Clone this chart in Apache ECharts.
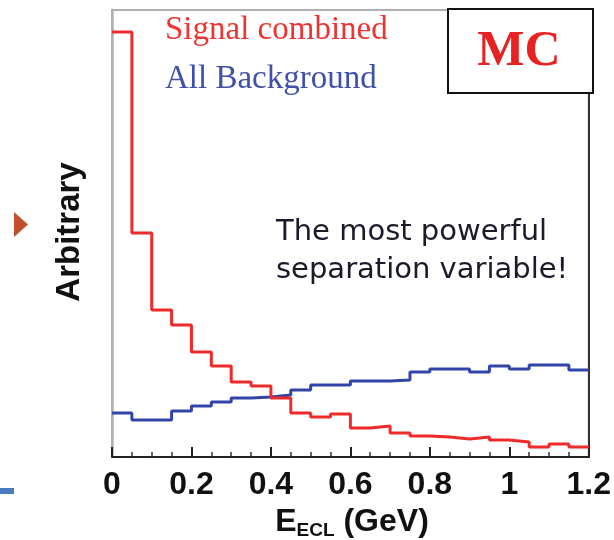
<!DOCTYPE html>
<html>
<head>
<meta charset="utf-8">
<script src="https://cdn.jsdelivr.net/npm/echarts@6/dist/echarts.min.js"></script>
<style>html,body{margin:0;padding:0;background:#fff}#c{width:614px;height:540px}</style>
</head>
<body>
<div id="c"></div>
<script>
// Bin lower edges (GeV), bin width 0.05
var binLeft = [0, 0.05, 0.1, 0.15, 0.2, 0.25, 0.3, 0.35, 0.4, 0.45, 0.5, 0.55,
               0.6, 0.65, 0.7, 0.75, 0.8, 0.85, 0.9, 0.95, 1.0, 1.05, 1.1, 1.15];
var binUpperEnd = 1.2;
// Signal combined (arbitrary units)
var signalValues = [425, 224, 147, 132, 105, 91, 75, 71, 59, 44, 40, 43,
                    29, 31, 24, 21, 20, 18, 20, 17, 15, 10, 13, 10];
// All Background (arbitrary units)
var backgroundValues = [44, 37, 37, 46, 51, 55, 59, 60, 62, 67, 72, 72,
                        76, 76, 77, 85, 88, 88, 85, 91, 88, 92, 92, 87];
var xTickLabels = ['0', '0.2', '0.4', '0.6', '0.8', '1', '1.2'];

function stepData(vals) {
  var d = binLeft.map(function (x, i) { return [x, vals[i]]; });
  d.push([binUpperEnd, vals[vals.length - 1]]);
  return d;
}

var chart = echarts.init(document.getElementById('c'));
chart.setOption({
  animation: false,
  backgroundColor: '#fff',
  grid: { left: 112, right: 22, top: 10, bottom: 83, show: true, borderColor: '#b0b0b0', borderWidth: 2, backgroundColor: 'transparent' },
  xAxis: {
    type: 'value', min: 0, max: 1.2, interval: 0.2,
    axisLine: { onZero: false, lineStyle: { color: '#222', width: 2 } },
    axisTick: { inside: true, length: 10, lineStyle: { color: '#222', width: 2 } },
    minorTick: { show: true, splitNumber: 4, length: 5, lineStyle: { color: '#333', width: 1.5 } },
    splitLine: { show: false },
    axisLabel: {
      margin: 12, color: '#111', fontFamily: 'Liberation Sans', fontWeight: 'bold', fontSize: 32,
      formatter: function (v) { var i = Math.round(v / 0.2); return xTickLabels[i]; }
    }
  },
  yAxis: [{
    type: 'value', min: 0, max: 447,
    axisLine: { show: true, lineStyle: { color: '#b0b0b0', width: 2.5 } },
    axisTick: { show: false }, axisLabel: { show: false }, splitLine: { show: false }
  }, {
    type: 'value', min: 0, max: 447, position: 'right',
    axisLine: { show: true, lineStyle: { color: '#333', width: 2 } },
    axisTick: { show: false }, axisLabel: { show: false }, splitLine: { show: false }
  }],
  series: [{
    name: 'All Background', type: 'line', step: 'end', symbol: 'none',
    lineStyle: { color: '#3344a8', width: 3 }, data: stepData(backgroundValues), z: 3
  }, {
    name: 'Signal combined', type: 'line', step: 'end', symbol: 'none',
    lineStyle: { color: '#ee2a2a', width: 3 }, data: stepData(signalValues), z: 4
  }],
  graphic: [
    { type: 'rect', shape: { x: 448, y: 9, width: 145, height: 84 }, style: { fill: '#fff', stroke: '#111', lineWidth: 2 }, z: 10 },
    { type: 'text', x: 519, y: 52, z: 11, style: { text: 'MC', fill: '#e82222', font: 'bold 50px "Liberation Serif"', textAlign: 'center', textVerticalAlign: 'middle' } },
    { type: 'text', x: 165, y: 30, z: 11, style: { text: 'Signal combined', fill: '#ee3333', font: '33px "Liberation Serif"', textAlign: 'left', textVerticalAlign: 'middle' } },
    { type: 'text', x: 165, y: 79, z: 11, style: { text: 'All Background', fill: '#4050aa', font: '33px "Liberation Serif"', textAlign: 'left', textVerticalAlign: 'middle' } },
    { type: 'text', x: 276, y: 232, z: 11, style: { text: 'The most powerful', fill: '#1a1a2a', font: '29px "DejaVu Sans"', textAlign: 'left', textVerticalAlign: 'middle' } },
    { type: 'text', x: 276, y: 270, z: 11, style: { text: 'separation variable!', fill: '#1a1a2a', font: '29px "DejaVu Sans"', textAlign: 'left', textVerticalAlign: 'middle' } },
    { type: 'text', x: 70, y: 232, rotation: Math.PI / 2, z: 11, style: { text: 'Arbitrary', fill: '#111', font: 'bold 33px "Liberation Sans"', textAlign: 'center', textVerticalAlign: 'middle' } },
    { type: 'text', x: 352, y: 522, z: 11, style: {
        text: '{e|E}{s|ECL}{e| (GeV)}', textAlign: 'center', textVerticalAlign: 'middle',
        rich: {
          e: { fontFamily: 'Liberation Sans', fontWeight: 'bold', fontSize: 32, fill: '#111', color: '#111' },
          s: { fontFamily: 'Liberation Sans', fontWeight: 'bold', fontSize: 19, fill: '#111', color: '#111', padding: [18, 0, 0, 0] }
        } } },
    { type: 'polygon', shape: { points: [[14, 212], [28, 224.5], [14, 237]] }, style: { fill: '#c0502a' }, z: 11 },
    { type: 'rect', shape: { x: 0, y: 488, width: 14, height: 6 }, style: { fill: '#4a7cc0' }, z: 11 }
  ]
});
</script>
</body>
</html>
